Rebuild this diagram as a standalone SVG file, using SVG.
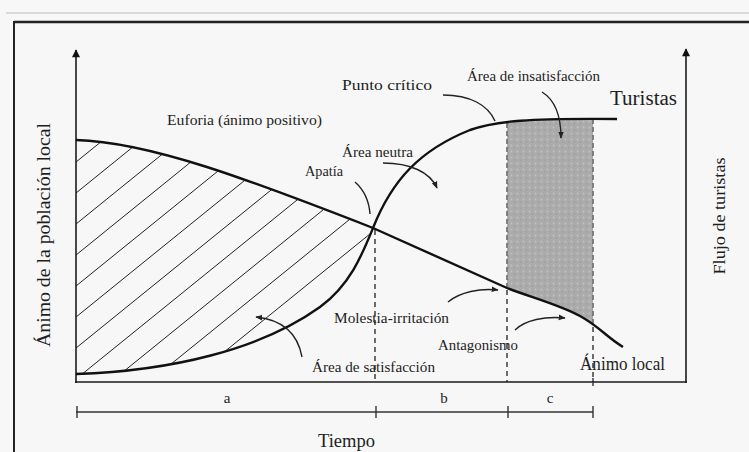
<svg xmlns="http://www.w3.org/2000/svg" width="749" height="452" viewBox="0 0 749 452">
<style>
text{font-family:"Liberation Serif","Times New Roman",serif;fill:#1e1e1e;}
.lbl{font-size:15px;}
.big{font-size:18px;}
.ax{stroke:#1a1a1a;stroke-width:1.6;fill:none;}
.crv{stroke:#111;stroke-width:2.4;fill:none;}
.hatch{stroke:#222;stroke-width:1;}
.lead{stroke:#222;stroke-width:1.4;fill:none;}
.dash{stroke:#222;stroke-width:1.3;stroke-dasharray:5,4;fill:none;}
.dashg{stroke:#777;stroke-width:1.8;stroke-dasharray:5,3;fill:none;}
.tick{stroke:#333;stroke-width:1.4;}
</style>
<defs>
<marker id="ah" viewBox="0 0 10 10" refX="9" refY="5" markerWidth="7" markerHeight="7" markerUnits="userSpaceOnUse" orient="auto">
<path d="M0,1 L10,5 L0,9 Z" fill="#222"/>
</marker>
<marker id="axh" viewBox="0 0 10 10" refX="5" refY="1" markerWidth="8" markerHeight="10" markerUnits="userSpaceOnUse" orient="0">
<path d="M5,0 L10,10 L0,10 Z" fill="#111"/>
</marker>
<clipPath id="satClip">
<path d="M76,140 C150,142 250,180 373,228 C362,255 350,285 320,307 C260,350 170,371 76,374 Z"/>
</clipPath>
<pattern id="stip" width="6" height="6" patternUnits="userSpaceOnUse">
<rect width="6" height="6" fill="#ababab"/>
<circle cx="1.5" cy="1.5" r="0.9" fill="#c2c2c2"/>
<circle cx="4.5" cy="4" r="0.8" fill="#979797"/>
</pattern>
</defs>
<rect width="749" height="452" fill="#f7f7f7"/>
<g id="frame">
<line x1="6" y1="13" x2="749" y2="13" stroke="#cfcfcf" stroke-width="1.5"/>
<line x1="14" y1="22" x2="749" y2="22" stroke="#222" stroke-width="2.5"/>
<line x1="14" y1="21" x2="14" y2="452" stroke="#222" stroke-width="2"/>
</g>
<g id="shaded-area">
<path d="M507,122 C530,119 560,118 593,118 L593,325 L580,316 C560,305 530,297 507,288 Z" fill="url(#stip)"/>
<line class="dashg" x1="507" y1="123" x2="507" y2="288"/>
<line class="dashg" x1="593" y1="119" x2="593" y2="325"/>
</g>
<g id="hatched-area" clip-path="url(#satClip)">
<line class="hatch" x1="70" y1="166.9" x2="400" y2="-100.4"/>
<line class="hatch" x1="70" y1="197.9" x2="400" y2="-69.4"/>
<line class="hatch" x1="70" y1="228.9" x2="400" y2="-38.4"/>
<line class="hatch" x1="70" y1="259.9" x2="400" y2="-7.4"/>
<line class="hatch" x1="70" y1="290.9" x2="400" y2="23.6"/>
<line class="hatch" x1="70" y1="321.9" x2="400" y2="54.6"/>
<line class="hatch" x1="70" y1="352.9" x2="400" y2="85.6"/>
<line class="hatch" x1="70" y1="383.9" x2="400" y2="116.6"/>
<line class="hatch" x1="70" y1="414.9" x2="400" y2="147.6"/>
<line class="hatch" x1="70" y1="445.9" x2="400" y2="178.6"/>
<line class="hatch" x1="70" y1="476.9" x2="400" y2="209.6"/>
</g>
<g id="axes">
<line class="ax" x1="76" y1="383" x2="76" y2="50" marker-end="url(#axh)"/>
<line class="ax" x1="686" y1="383" x2="686" y2="49" marker-end="url(#axh)"/>
<line class="ax" x1="75" y1="382" x2="687" y2="382"/>
<line class="tick" x1="593" y1="378" x2="593" y2="386"/>
</g>
<g id="dividers">
<line class="dash" x1="375" y1="230" x2="375" y2="382"/>
<line class="dash" x1="507" y1="290" x2="507" y2="382"/>
<line class="dash" x1="593" y1="327" x2="593" y2="382"/>
</g>
<g id="curve-tourists">
<path class="crv" d="M76,374 C170,371 260,350 320,307 C350,285 362,255 373,228 C392,180 420,150 470,130 C495,121 530,118 617,119"/>
</g>
<g id="curve-local">
<path class="crv" d="M76,140 C150,142 250,180 373,228 L507,288 C530,297 560,305 580,316 S605,336 623,347"/>
</g>
<g id="connectors">
<path class="lead" d="M355,182 C364,190 369,200 370,214"/>
<path class="lead" d="M443,95 C470,95 488,105 495,121"/>
<path class="lead" d="M542,92 C555,100 561,115 561,138" marker-end="url(#ah)"/>
<path class="lead" d="M383,163 C410,163 430,172 437,188" marker-end="url(#ah)"/>
<path class="lead" d="M302,357 C298,335 285,320 256,317" marker-end="url(#ah)"/>
<path class="lead" d="M448,302 C460,292 480,288 498,290" marker-end="url(#ah)"/>
<path class="lead" d="M515,330 C525,320 545,316 565,318" marker-end="url(#ah)"/>
</g>
<g id="timeline">
<line class="tick" x1="76" y1="412" x2="593" y2="412"/>
<line class="tick" x1="77" y1="406" x2="77" y2="418"/>
<line class="tick" x1="376" y1="406" x2="376" y2="418"/>
<line class="tick" x1="508" y1="406" x2="508" y2="418"/>
<line class="tick" x1="593" y1="406" x2="593" y2="418"/>
<text class="lbl" x="227" y="403" text-anchor="middle">a</text>
<text class="lbl" x="444" y="403" text-anchor="middle">b</text>
<text class="lbl" x="550" y="403" text-anchor="middle">c</text>
</g>
<g id="labels">
<text class="lbl" x="167" y="125" textLength="155" lengthAdjust="spacingAndGlyphs">Euforia (ánimo positivo)</text>
<text class="lbl" x="342" y="90" textLength="90" lengthAdjust="spacingAndGlyphs">Punto crítico</text>
<text class="lbl" x="467" y="81" textLength="133" lengthAdjust="spacingAndGlyphs">Área de insatisfacción</text>
<text x="610" y="105" style="font-size:20px" textLength="67" lengthAdjust="spacingAndGlyphs">Turistas</text>
<text class="lbl" x="342" y="157" textLength="71" lengthAdjust="spacingAndGlyphs">Área neutra</text>
<text class="lbl" x="305" y="176" textLength="38" lengthAdjust="spacingAndGlyphs">Apatía</text>
<text class="lbl" x="334" y="323" textLength="115" lengthAdjust="spacingAndGlyphs">Molestia-irritación</text>
<text class="lbl" x="438" y="350" textLength="80" lengthAdjust="spacingAndGlyphs">Antagonismo</text>
<text class="lbl" x="312" y="372" textLength="123" lengthAdjust="spacingAndGlyphs">Área de satisfacción</text>
<text x="580" y="370" style="font-size:18px" textLength="85" lengthAdjust="spacingAndGlyphs">Ánimo local</text>
<text class="big" x="318" y="447" textLength="57" lengthAdjust="spacingAndGlyphs">Tiempo</text>
<text class="big" transform="translate(50,235) rotate(-90)" text-anchor="middle" textLength="224" lengthAdjust="spacingAndGlyphs">Ánimo de la población local</text>
<text style="font-size:16px" transform="translate(725,216) rotate(-90)" text-anchor="middle" textLength="117" lengthAdjust="spacingAndGlyphs">Flujo de turistas</text>
</g>
</svg>
